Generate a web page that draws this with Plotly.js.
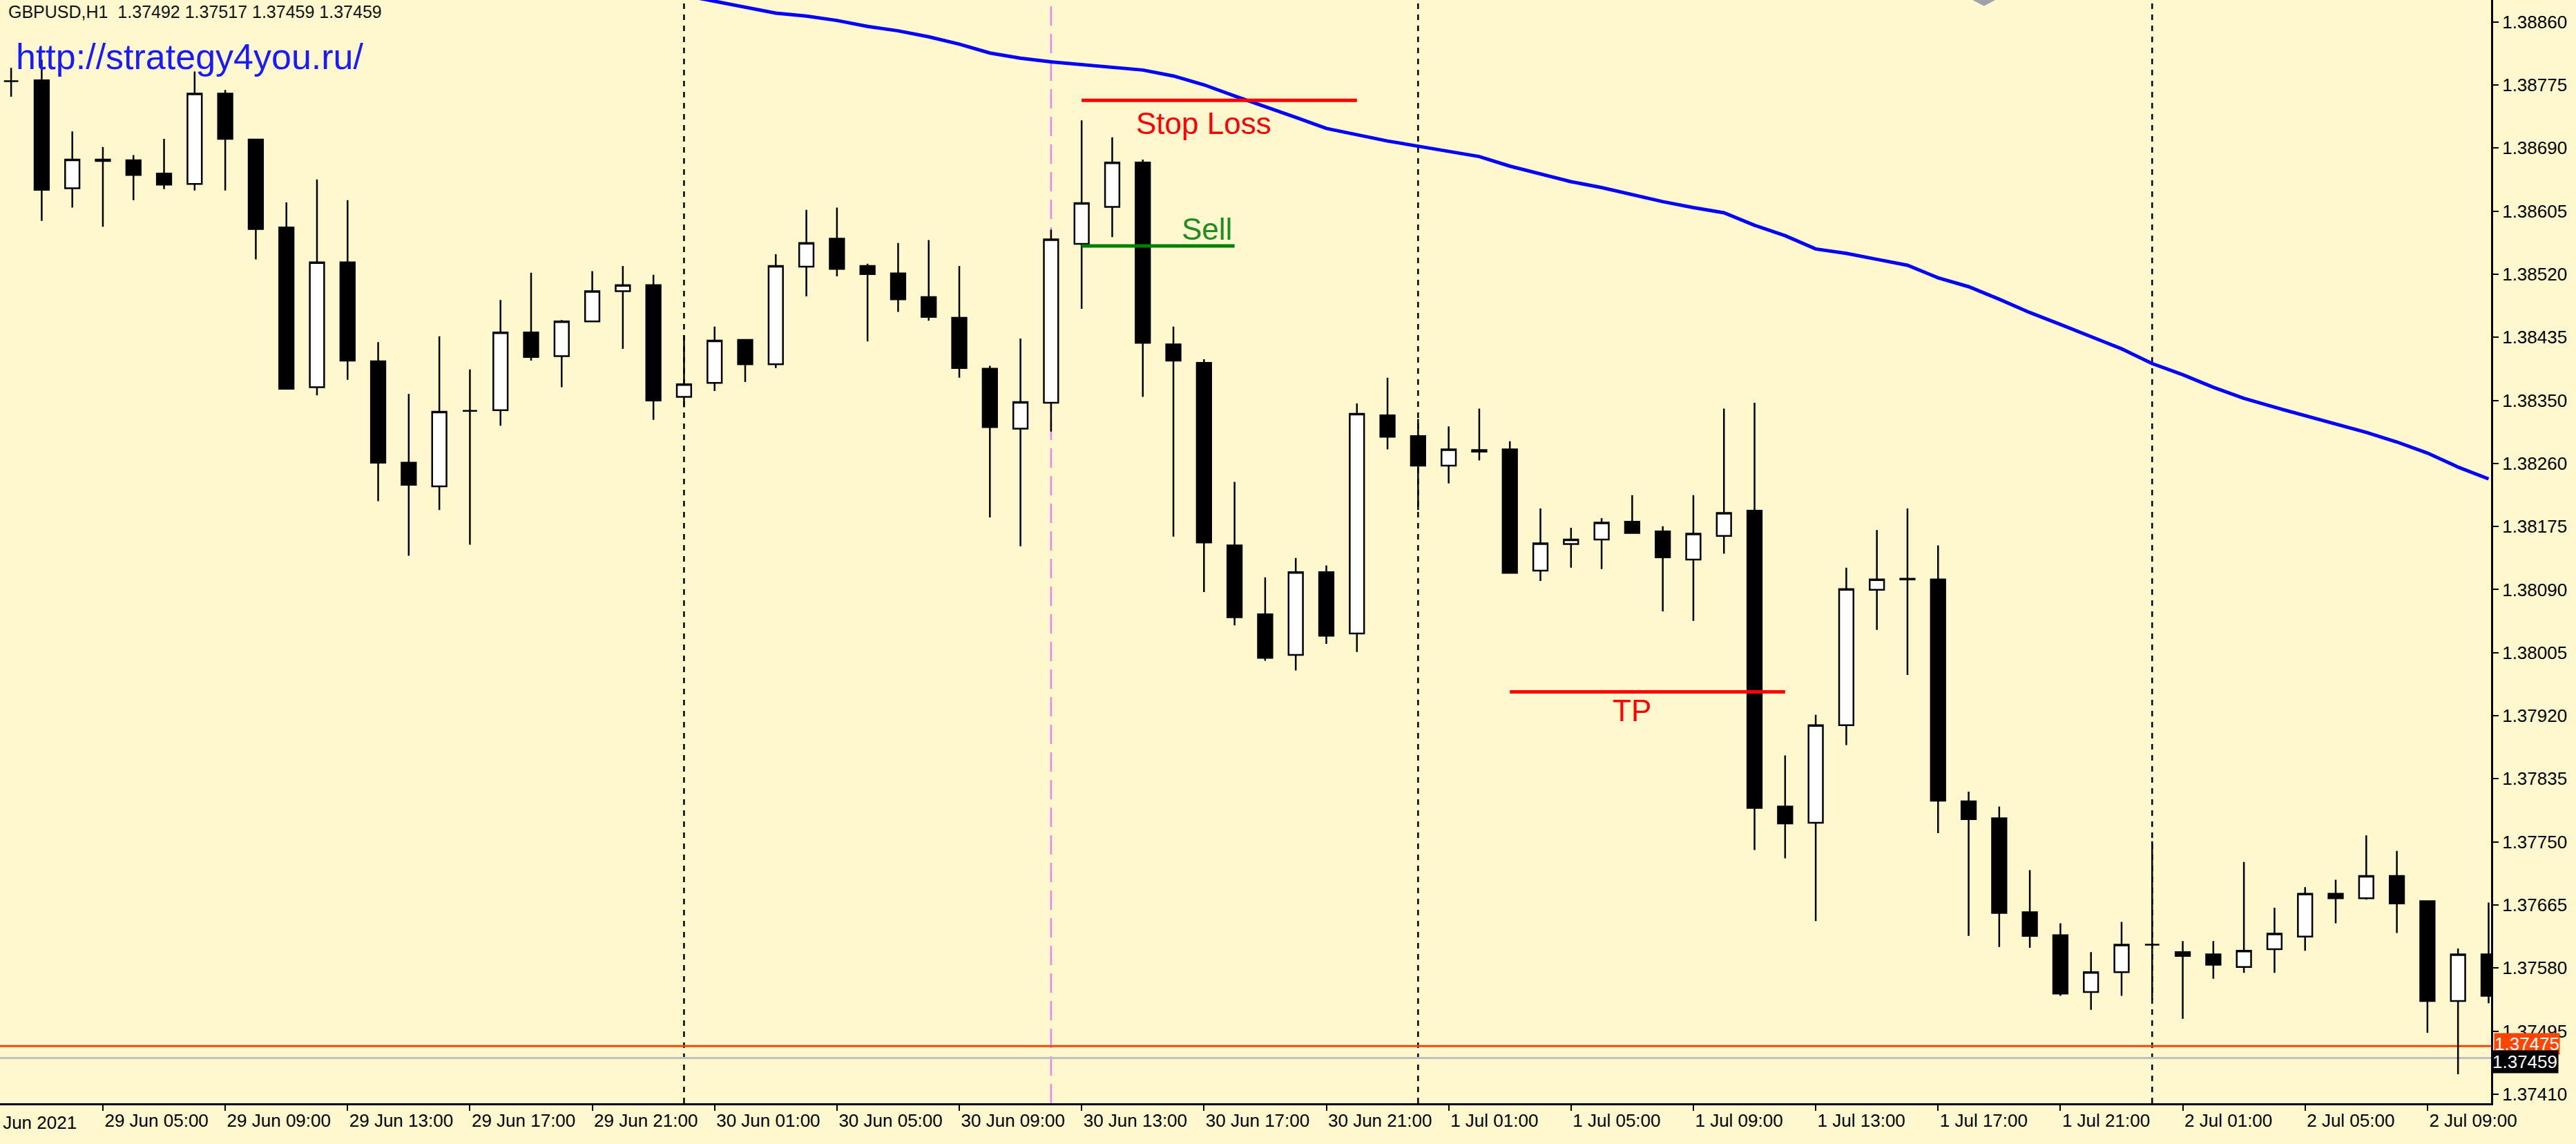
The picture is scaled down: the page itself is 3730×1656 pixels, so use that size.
<!DOCTYPE html>
<html>
<head>
<meta charset="utf-8">
<script src="https://cdn.plot.ly/plotly-3.0.1.min.js"></script>
<style>
html,body{margin:0;padding:0;background:#FFF8CF;overflow:hidden;}
#chart{width:3730px;height:1656px;}
</style>
</head>
<body>
<div id="chart"></div>
<script>
// ---- Data (GBPUSD H1, 29 Jun 02:00 .. 2 Jul 11:00, 2021) ----
const opens = [1.38780,1.38781,1.38635,1.38674,1.38673,1.38655,1.38641,1.38763,1.38701,1.38582,
1.38366,1.38535,1.38401,1.38264,1.38232,1.38334,1.38335,1.38440,1.38408,1.38455,
1.38496,1.38504,1.38353,1.38372,1.38430,1.38397,1.38529,1.38567,1.38530,1.38520,
1.38488,1.38460,1.38391,1.38310,1.38345,1.38560,1.38610,1.38670,1.38424,1.38399,
1.38152,1.38059,1.38004,1.38116,1.38033,1.38328,1.38300,1.38260,1.38281,1.38282,
1.38118,1.38154,1.38160,1.38184,1.38171,1.38133,1.38165,1.38199,1.37799,1.37777,
1.37909,1.38092,1.38107,1.38106,1.37806,1.37783,1.37656,1.37625,1.37548,1.37575,
1.37612,1.37602,1.37599,1.37582,1.37606,1.37623,1.37681,1.37675,1.37705,1.37671,
1.37536,1.37599];
const highs = [1.38798,1.38809,1.38712,1.38691,1.38680,1.38702,1.38793,1.38768,1.38702,1.38616,
1.38647,1.38619,1.38427,1.38357,1.38435,1.38390,1.38484,1.38521,1.38457,1.38523,
1.38530,1.38518,1.38436,1.38448,1.38430,1.38546,1.38606,1.38609,1.38533,1.38561,
1.38565,1.38530,1.38395,1.38432,1.38579,1.38727,1.38704,1.38674,1.38448,1.38404,
1.38238,1.38109,1.38135,1.38125,1.38344,1.38379,1.38323,1.38313,1.38337,1.38293,
1.38202,1.38176,1.38189,1.38220,1.38178,1.38220,1.38337,1.38345,1.37868,1.37923,
1.38122,1.38173,1.38202,1.38152,1.37819,1.37799,1.37713,1.37641,1.37602,1.37643,
1.37752,1.37617,1.37617,1.37724,1.37662,1.37690,1.37700,1.37760,1.37739,1.37671,
1.37607,1.37669];
const lows = [1.38759,1.38591,1.38609,1.38583,1.38619,1.38634,1.38632,1.38632,1.38539,1.38363,
1.38355,1.38376,1.38212,1.38138,1.38200,1.38153,1.38314,1.38402,1.38366,1.38454,
1.38418,1.38322,1.38339,1.38361,1.38373,1.38392,1.38489,1.38516,1.38428,1.38468,
1.38456,1.38379,1.38190,1.38151,1.38306,1.38472,1.38569,1.38353,1.38164,1.38089,
1.38044,1.37996,1.37983,1.38019,1.38008,1.38282,1.38200,1.38236,1.38267,1.38114,
1.38104,1.38122,1.38120,1.38168,1.38063,1.38050,1.38141,1.37740,1.37729,1.37644,
1.37882,1.38038,1.37977,1.37763,1.37624,1.37609,1.37608,1.37543,1.37524,1.37543,
1.37538,1.37512,1.37566,1.37574,1.37574,1.37604,1.37641,1.37673,1.37628,1.37493,
1.37437,1.37533];
const closes = [1.38780,1.38633,1.38674,1.38672,1.38653,1.38640,1.38763,1.38702,1.38580,1.38364,
1.38535,1.38402,1.38264,1.38234,1.38333,1.38334,1.38440,1.38407,1.38455,1.38496,
1.38504,1.38348,1.38370,1.38429,1.38397,1.38530,1.38561,1.38526,1.38519,1.38485,
1.38461,1.38392,1.38312,1.38346,1.38566,1.38615,1.38670,1.38426,1.38402,1.38156,
1.38055,1.38000,1.38116,1.38030,1.38330,1.38299,1.38260,1.38282,1.38279,1.38115,
1.38155,1.38160,1.38183,1.38169,1.38136,1.38168,1.38196,1.37797,1.37776,1.37909,
1.38093,1.38106,1.38106,1.37807,1.37782,1.37655,1.37624,1.37546,1.37575,1.37612,
1.37612,1.37597,1.37585,1.37604,1.37627,1.37681,1.37675,1.37705,1.37668,1.37536,
1.37599,1.37543];
// Moving average (blue line), null where it is above the visible area
const maValues = [null,null,null,null,null,null,null,null,null,null,
null,null,null,null,null,null,null,null,null,null,null,
1.38904,1.38896,1.38887,1.38879,1.38872,1.38868,1.38862,1.38854,1.38848,1.38840,
1.38830,1.38818,1.38811,1.38806,1.38802,1.38799,1.38795,1.38787,1.38775,1.38760,
1.38746,1.38731,1.38716,1.38707,1.38699,1.38692,1.38685,1.38678,1.38665,1.38655,
1.38644,1.38636,1.38626,1.38617,1.38609,1.38602,1.38585,1.38571,1.38553,1.38547,
1.38539,1.38531,1.38514,1.38502,1.38485,1.38467,1.38451,1.38435,1.38418,1.38398,
1.38383,1.38366,1.38351,1.38339,1.38328,1.38317,1.38305,1.38292,1.38277,1.38258,
1.38242];

// x tick labels (bar index -> label)
const tickBars = [3,7,11,15,19,23,27,31,35,39,43,47,51,55,59,63,67,71,75,79];
const tickLabels = ['29 Jun 05:00','29 Jun 09:00','29 Jun 13:00','29 Jun 17:00','29 Jun 21:00',
'30 Jun 01:00','30 Jun 05:00','30 Jun 09:00','30 Jun 13:00','30 Jun 17:00','30 Jun 21:00',
'1 Jul 01:00','1 Jul 05:00','1 Jul 09:00','1 Jul 13:00','1 Jul 17:00','1 Jul 21:00',
'2 Jul 01:00','2 Jul 05:00','2 Jul 09:00'];
const firstDateLabel = '29 Jun 2021';
// price axis labels (evenly spaced on the axis, top to bottom)
const priceLabels = ['1.38860','1.38775','1.38690','1.38605','1.38520','1.38435','1.38350','1.38260',
'1.38175','1.38090','1.38005','1.37920','1.37835','1.37750','1.37665','1.37580','1.37495','1.37410'];

// day separators and the signal bar
const separatorBars = [22,46,70];
const signalBar = 34;

// trade levels
const stopLoss = 1.38754, sellPrice = 1.38557, takeProfit = 1.37954;
const slBars = [35,44], sellBars = [35,40], tpBars = [49,58];
const slLabelPos = [39.0, 1.38723], sellLabelPos = [39.1, 1.38580], tpLabelPos = [53.0, 1.37929];

// current quotes
const askPrice = 1.37475, bidPrice = 1.37459;
const header = 'GBPUSD,H1\u00a0 1.37492 1.37517 1.37459 1.37459';
const siteUrl = 'http://strategy4you.ru/';

// ---- Build ----
const BG = '#FFF8CF';
const bars = opens.map((_, i) => i);
const nL = priceLabels.length;
const pTop = parseFloat(priceLabels[0]), pBot = parseFloat(priceLabels[nL-1]);
const priceTickVals = priceLabels.map((_, k) => pTop - (pTop - pBot) * k / (nL - 1));

const sans = '"Liberation Sans", Arial, sans-serif';

const traces = [
  {
    type: 'candlestick', x: bars, open: opens, high: highs, low: lows, close: closes,
    increasing: {line: {color: '#000000', width: 2.5}, fillcolor: '#FFFFFF'},
    decreasing: {line: {color: '#000000', width: 2.5}, fillcolor: '#000000'},
    whiskerwidth: 0, hoverinfo: 'skip', showlegend: false
  },
  {
    type: 'scatter', mode: 'lines', x: bars, y: maValues,
    line: {color: '#0000FF', width: 5}, hoverinfo: 'skip', showlegend: false, connectgaps: false
  },
  {
    type: 'scatter', mode: 'lines', x: slBars, y: [stopLoss, stopLoss],
    line: {color: '#FF0000', width: 5}, hoverinfo: 'skip', showlegend: false
  },
  {
    type: 'scatter', mode: 'lines', x: sellBars, y: [sellPrice, sellPrice],
    line: {color: '#008000', width: 5}, hoverinfo: 'skip', showlegend: false
  },
  {
    type: 'scatter', mode: 'lines', x: tpBars, y: [takeProfit, takeProfit],
    line: {color: '#FF0000', width: 5}, hoverinfo: 'skip', showlegend: false
  }
];

const shapes = [];
separatorBars.forEach(b => shapes.push({
  type: 'line', xref: 'x', yref: 'paper', x0: b, x1: b, y0: 0, y1: 1, layer: 'below',
  line: {color: '#000000', width: 2.5, dash: '8px,8px'}
}));
shapes.push({
  type: 'line', xref: 'x', yref: 'paper', x0: signalBar, x1: signalBar, y0: 0, y1: 1, layer: 'below',
  line: {color: '#EE82EE', width: 2.5, dash: '28px,12px'}
});
shapes.push({
  type: 'line', xref: 'paper', yref: 'y', x0: 0, x1: 1, y0: askPrice, y1: askPrice, layer: 'below',
  line: {color: '#FF4500', width: 3}
});
shapes.push({
  type: 'line', xref: 'paper', yref: 'y', x0: 0, x1: 1, y0: bidPrice, y1: bidPrice, layer: 'below',
  line: {color: '#C0C0C0', width: 3}
});
// small grey object marker cut by the top edge
shapes.push({
  type: 'path', xref: 'x', yref: 'paper', path: 'M64.13,1 L64.87,1 L64.5,0.9945 Z',
  fillcolor: '#A0A0A8', line: {width: 0}
});

const annotations = [
  {xref: 'x', yref: 'y', x: slLabelPos[0], y: slLabelPos[1], text: 'Stop Loss', showarrow: false,
   font: {family: sans, size: 44, color: '#FF0000'}, xanchor: 'center', yanchor: 'middle'},
  {xref: 'x', yref: 'y', x: sellLabelPos[0], y: sellLabelPos[1], text: 'Sell', showarrow: false,
   font: {family: sans, size: 44, color: '#1E8C1E'}, xanchor: 'center', yanchor: 'middle'},
  {xref: 'x', yref: 'y', x: tpLabelPos[0], y: tpLabelPos[1], text: 'TP', showarrow: false,
   font: {family: sans, size: 44, color: '#FF0000'}, xanchor: 'center', yanchor: 'middle'},
  {xref: 'paper', yref: 'paper', x: 0, y: 1, xanchor: 'left', yanchor: 'middle', xshift: 10, yshift: -17,
   text: header, showarrow: false, font: {family: sans, size: 25, color: '#111111'}},
  {xref: 'paper', yref: 'paper', x: 0, y: 1, xanchor: 'left', yanchor: 'middle', xshift: 21, yshift: -82,
   text: siteUrl, showarrow: false, font: {family: sans, size: 52, color: '#1A1AFF'}},
  {xref: 'paper', yref: 'paper', x: 0, y: 0, xanchor: 'left', yanchor: 'middle', xshift: -34, yshift: -28,
   text: firstDateLabel, showarrow: false, font: {family: sans, size: 26, color: '#000000'}},
  {xref: 'paper', yref: 'y', x: 1, y: askPrice, xanchor: 'left', yanchor: 'middle', xshift: 4, yshift: 3,
   text: askPrice.toFixed(5), showarrow: false, bgcolor: '#FF4500', borderpad: 0,
   font: {family: sans, size: 26, color: '#FFFFFF'}},
  {xref: 'paper', yref: 'y', x: 1, y: bidPrice, xanchor: 'left', yanchor: 'middle', xshift: 0, yshift: -6,
   text: bidPrice.toFixed(5), showarrow: false, bgcolor: '#000000', borderpad: 1,
   font: {family: sans, size: 26, color: '#FFFFFF'}}
];

const layout = {
  width: 3730, height: 1656,
  margin: {l: 0, r: 123, t: 0, b: 59, pad: 0},
  paper_bgcolor: BG, plot_bgcolor: BG,
  showlegend: false,
  boxgap: 0.33,
  dragmode: false,
  xaxis: {
    range: [-0.3635, 81.08], tickvals: tickBars, ticktext: tickLabels,
    ticks: 'outside', ticklen: 8, tickwidth: 2, tickcolor: '#000000',
    showline: true, linecolor: '#000000', linewidth: 3, mirror: false,
    showgrid: false, zeroline: false, ticklabelposition: 'outside right',
    tickfont: {family: sans, size: 26, color: '#000000'},
    rangeslider: {visible: false}, fixedrange: true
  },
  yaxis: {
    side: 'right', range: [1.373977, 1.388897],
    tickvals: priceTickVals, ticktext: priceLabels,
    ticks: 'outside', ticklen: 8, tickwidth: 2, tickcolor: '#000000',
    showline: true, linecolor: '#000000', linewidth: 3,
    showgrid: false, zeroline: false,
    tickfont: {family: sans, size: 26, color: '#000000'}, fixedrange: true
  },
  shapes: shapes,
  annotations: annotations
};

Plotly.newPlot('chart', traces, layout, {staticPlot: true, displayModeBar: false});
</script>
</body>
</html>
